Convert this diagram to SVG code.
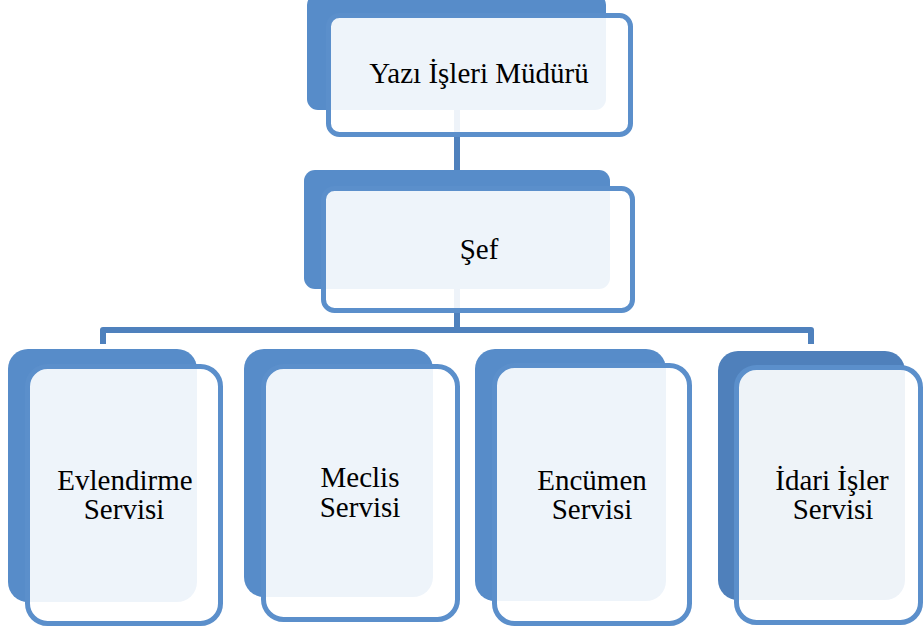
<svg xmlns="http://www.w3.org/2000/svg" width="924" height="631" viewBox="0 0 924 631">
<style>
.back{fill:#578cc9}
.back2{fill:#4f80bb}
.front{fill:#ffffff;fill-opacity:0.9;stroke:#5b8fcb;stroke-width:5}
.conn{fill:none;stroke:#4f81bd;stroke-width:6;stroke-linejoin:round}
text{font-family:"Liberation Serif","Times New Roman",serif;font-size:29px;fill:#000;text-anchor:middle}
</style>
<rect width="924" height="631" fill="#ffffff"/>
<g id="connectors">
<path class="conn" d="M457,105 V172"/>
<path class="conn" d="M457,285 V330"/>
<path class="conn" d="M103,344 V330 H811 V344"/>
</g>
<g id="node-mudur">
<rect class="back" x="307" y="-6" width="299" height="116" rx="11"/>
<rect class="front" x="328.5" y="15.5" width="302" height="119" rx="11"/>
<text x="479" y="83">Yazı İşleri Müdürü</text>
</g>
<g id="node-sef">
<rect class="back" x="304" y="170" width="306" height="119" rx="11"/>
<rect class="front" x="323.5" y="188.5" width="309" height="122" rx="11"/>
<text x="479" y="259">Şef</text>
</g>
<g id="node-evlendirme">
<rect class="back" x="8" y="349" width="189" height="253" rx="20"/>
<rect class="front" x="27.5" y="366.5" width="193" height="257" rx="20"/>
<text x="125" y="490">Evlendirme</text>
<text x="124" y="519">Servisi</text>
</g>
<g id="node-meclis">
<rect class="back" x="244" y="349" width="189" height="248" rx="20"/>
<rect class="front" x="263.5" y="366.5" width="194" height="253" rx="20"/>
<text x="360" y="487">Meclis</text>
<text x="360" y="517">Servisi</text>
</g>
<g id="node-encumen">
<rect class="back" x="475" y="349" width="191" height="252" rx="20"/>
<rect class="front" x="494.5" y="365.5" width="195" height="258" rx="20"/>
<text x="592" y="490">Encümen</text>
<text x="592" y="519">Servisi</text>
</g>
<g id="node-idari">
<rect class="back2" x="718" y="351" width="187" height="249" rx="20"/>
<rect class="front" x="736.5" y="367.5" width="184" height="255" rx="20"/>
<text x="832" y="490">İdari İşler</text>
<text x="833" y="519">Servisi</text>
</g>
</svg>
